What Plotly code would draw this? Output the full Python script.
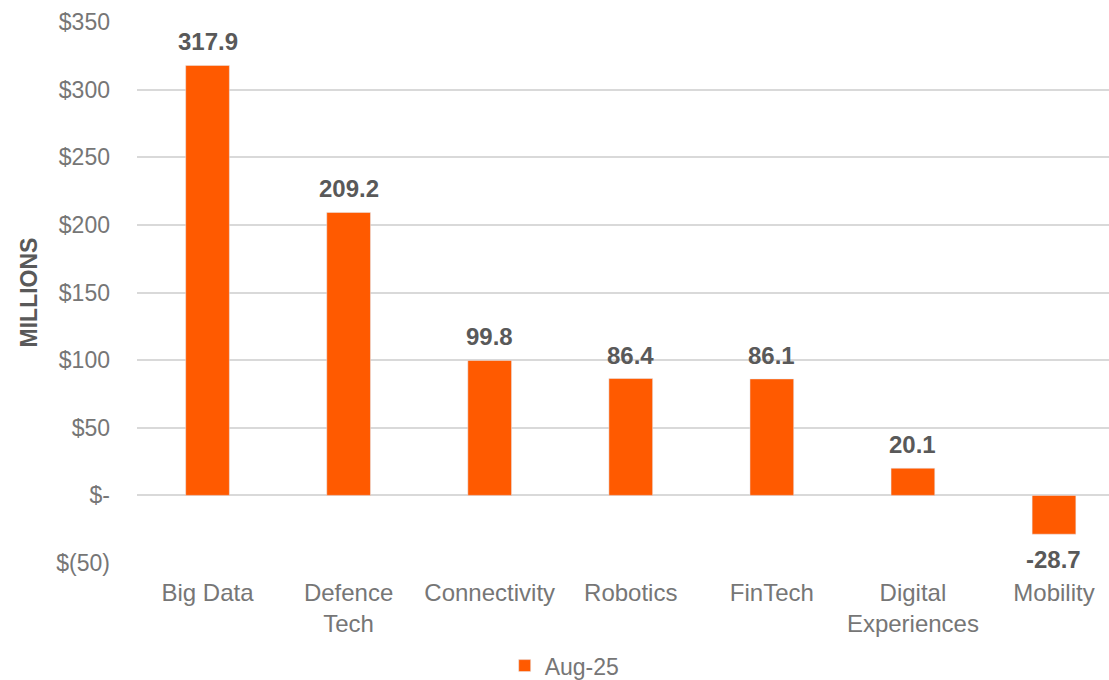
import plotly.graph_objects as go

categories = ["Big Data", "Defence<br>Tech", "Connectivity", "Robotics",
              "FinTech", "Digital<br>Experiences", "Mobility"]
values = [317.9, 209.2, 99.8, 86.4, 86.1, 20.1, -28.7]
series_name = "Aug-25"
tick_vals = [-50, 0, 50, 100, 150, 200, 250, 300, 350]
tick_text = ["$(50)", "$-", "$50", "$100", "$150", "$200", "$250", "$300", "$350"]

ORANGE = "#FF5A00"
GREY = "#767676"
DARK = "#595959"
FONT = "Liberation Sans, Arial, sans-serif"

fig = go.Figure()

fig.add_bar(
    x=categories,
    y=values,
    name=series_name,
    marker_color=ORANGE,
    width=0.31,
)

# data labels above / below the bars
for cat, val in zip(categories, values):
    fig.add_annotation(
        x=cat,
        y=val,
        text=f"<b>{val:.1f}</b>",
        showarrow=False,
        yanchor="bottom" if val >= 0 else "top",
        yshift=8 if val >= 0 else -10,
        font=dict(family=FONT, size=24, color=DARK),
        xref="x",
        yref="y",
    )

fig.update_layout(
    width=1109,
    height=680,
    paper_bgcolor="white",
    plot_bgcolor="white",
    margin=dict(l=137, r=0, t=22, b=117, autoexpand=False),
    bargap=0.69,
    font=dict(family=FONT, size=23, color=GREY),
    showlegend=True,
    legend=dict(
        orientation="h",
        x=0.44,
        xanchor="center",
        y=-0.15,
        yanchor="top",
        font=dict(family=FONT, size=23, color=GREY),
    ),
)

fig.update_xaxes(
    range=[-0.5, 6.39],
    automargin=False,
    showgrid=False,
    showline=False,
    zeroline=False,
    ticks="",
    ticklabelstandoff=13,
    tickfont=dict(family=FONT, size=24, color=GREY),
)

fig.update_yaxes(
    range=[-50, 350],
    automargin=False,
    tickvals=tick_vals,
    ticktext=tick_text,
    showgrid=True,
    gridcolor="#D9D9D9",
    gridwidth=1.5,
    zeroline=True,
    zerolinecolor="#D9D9D9",
    zerolinewidth=1.5,
    showline=False,
    ticks="",
    ticklabelstandoff=26,
    tickfont=dict(family=FONT, size=23, color=GREY),
    title=dict(
        text="<b>MILLIONS</b>",
        font=dict(family=FONT, size=23, color=DARK),
        standoff=12,
    ),
)

# drop the default page margin so the figure sits at the window corner
fig.write_html(
    "out.html",
    config={"displayModeBar": False},
    post_script="document.body.style.margin='0';",
)
